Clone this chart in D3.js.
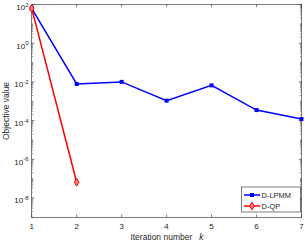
<!DOCTYPE html>
<html><head><meta charset="utf-8">
<script src="https://cdn.jsdelivr.net/npm/d3@7"></script>
<style>body{margin:0;background:#fff}svg{display:block}text{font-family:"Liberation Sans",Arial,sans-serif;fill:#262626;white-space:pre}</style>
</head><body><svg id="c" width="305" height="241"></svg>
<script>
const iterLPMM = [1,2,3,4,5,6,7];
const valLPMM = [63, 7.8e-3, 1.0e-2, 1.07e-3, 6.6e-3, 3.5e-4, 1.2e-4];
const iterQP = [1,2];
const valQP = [63, 6.5e-8];
const xTicks = [1,2,3,4,5,6,7];
const yTickExps = [2,0,-2,-4,-6,-8];
const seriesNames = ["D-LPMM","D-QP"];

const svg = d3.select("#c");
const L=31.7, R=301.5, T=4.5, B=217.3;
const x = d3.scaleLinear().domain([1,7]).range([L,R]);
const y = d3.scaleLog().domain([1e-9,1e2]).range([B,T]);
const ax = "#262626";

svg.append("rect").attr("x",L).attr("y",T).attr("width",R-L).attr("height",B-T)
  .attr("fill","none").attr("stroke",ax).attr("stroke-width",0.6);

const gx = svg.append("g");
xTicks.forEach(t=>{
  gx.append("line").attr("x1",x(t)).attr("x2",x(t)).attr("y1",B).attr("y2",B-2.7).attr("stroke",ax).attr("stroke-width",0.6);
  gx.append("line").attr("x1",x(t)).attr("x2",x(t)).attr("y1",T).attr("y2",T+2.7).attr("stroke",ax).attr("stroke-width",0.6);
  gx.append("text").attr("x",x(t)).attr("y",229).attr("text-anchor","middle").attr("font-size",8).text(t);
});
const gy = svg.append("g");
for(let e=-9;e<2;e++){
  for(let m=1;m<10;m++){
    const v=m*Math.pow(10,e);
    if(m===1 && yTickExps.includes(e)) continue;
    [[L,L+1.5],[R,R-1.5]].forEach(([a,b])=>gy.append("line").attr("x1",a).attr("x2",b).attr("y1",y(v)).attr("y2",y(v)).attr("stroke",ax).attr("stroke-width",0.5));
  }
}
yTickExps.forEach(e=>{
  const v=Math.pow(10,e);
  [[L,L+2.7],[R,R-2.7]].forEach(([a,b])=>gy.append("line").attr("x1",a).attr("x2",b).attr("y1",y(v)).attr("y2",y(v)).attr("stroke",ax).attr("stroke-width",0.6));
  const t=gy.append("text").attr("x",28.5).attr("y",y(v)+5.5).attr("text-anchor","end").attr("font-size",8);
  t.append("tspan").text("10");
  t.append("tspan").attr("dy",-3.5).attr("font-size",6).text(e);
});

svg.append("text").attr("transform","translate(8.5,111) rotate(-90)").attr("text-anchor","middle").attr("font-size",8.5).text("Objective value");
const xl = svg.append("text").attr("x",167).attr("y",239.5).attr("text-anchor","middle").attr("font-size",8.5);
xl.append("tspan").text("Iteration number   ");
xl.append("tspan").attr("font-style","italic").text("k");

const line = d3.line().x(d=>x(d[0])).y(d=>y(d[1]));
const dL = iterLPMM.map((k,i)=>[k,valLPMM[i]]);
const dQ = iterQP.map((k,i)=>[k,valQP[i]]);
svg.append("path").datum(dL).attr("d",line).attr("fill","none").attr("stroke","#0000ff").attr("stroke-width",1.5);
svg.selectAll(".sq").data(dL).enter().append("rect").attr("x",d=>x(d[0])-2).attr("y",d=>y(d[1])-2).attr("width",4).attr("height",4).attr("fill","#0000ff");
svg.append("path").datum(dQ).attr("d",line).attr("fill","none").attr("stroke","#ff0000").attr("stroke-width",1.5);
const dia = d3.symbol().type(d3.symbolDiamond).size(18);
svg.selectAll(".di").data(dQ).enter().append("path").attr("d",dia).attr("transform",d=>`translate(${x(d[0])},${y(d[1])})`).attr("fill","#ff8080").attr("stroke","#ff0000").attr("stroke-width",1);

const lg = svg.append("g");
lg.append("rect").attr("x",241.5).attr("y",187).attr("width",59).attr("height",25).attr("fill","#fff").attr("stroke",ax).attr("stroke-width",0.6);
const colors=["#0000ff","#ff0000"];
seriesNames.forEach((n,i)=>{
  const yy=195+i*11;
  lg.append("line").attr("x1",244).attr("x2",260).attr("y1",yy).attr("y2",yy).attr("stroke",colors[i]).attr("stroke-width",1.5);
  if(i===0) lg.append("rect").attr("x",250).attr("y",yy-2).attr("width",4).attr("height",4).attr("fill",colors[i]);
  else lg.append("path").attr("d",dia).attr("transform",`translate(252,${yy})`).attr("fill","#ff8080").attr("stroke","#ff0000").attr("stroke-width",1);
  lg.append("text").attr("x",261.5).attr("y",yy+3).attr("font-size",7.5).text(n);
});
</script></body></html>
